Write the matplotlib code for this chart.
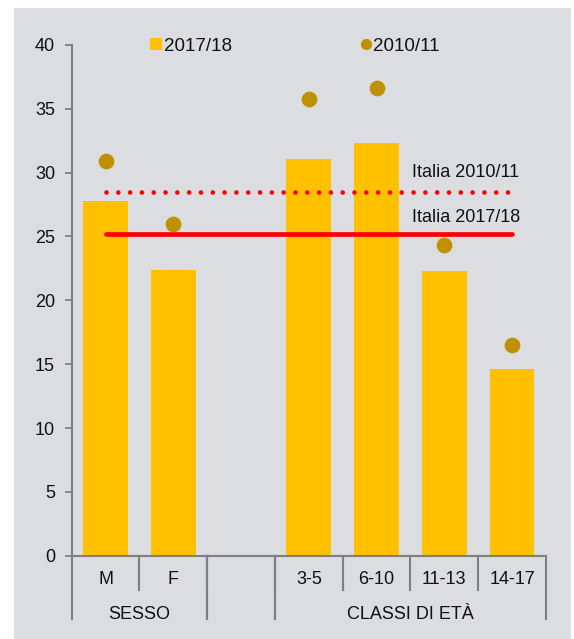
import numpy as np
import matplotlib
matplotlib.use("Agg")
import matplotlib.pyplot as plt
from matplotlib.lines import Line2D
from matplotlib.patches import Rectangle

plt.rcParams['font.family'] = ['Liberation Sans', 'DejaVu Sans']

# dati
categorie = ["M", "F", "", "3-5", "6-10", "11-13", "14-17"]
valori_2017 = [27.8, 22.4, np.nan, 31.1, 32.3, 22.3, 14.6]
valori_2010 = [30.9, 26.0, np.nan, 35.8, 36.6, 24.3, 16.5]
italia_2010 = 28.5
italia_2017 = 25.2
gruppi = ["SESSO", "", "CLASSI DI ETÀ"]
gruppi_inizio = [0, 2, 3]
gruppi_fine = [2, 3, 7]

giallo = '#ffc000'
oro = '#bf9000'
rosso = '#ff0000'
grigio = '#808080'
sfondo = '#dcdde0'
testo = '#111111'

fig = plt.figure(figsize=(5.74, 6.39), dpi=100)
fig.patch.set_facecolor('white')
# sfondo grigio
fig.patches.append(Rectangle((0.0244, 0), 0.9704, 0.9875, transform=fig.transFigure,
                             facecolor=sfondo, edgecolor='none', zorder=-10))

ax = fig.add_axes([0.1249, 0.1304, 0.8263, 0.7992])
ax.set_facecolor('none')

x = np.arange(len(categorie))
ax.bar(x, valori_2017, width=0.66, color=giallo, zorder=2)
ax.plot(x, valori_2010, 'o', color=oro, markersize=11.3, markeredgewidth=0, zorder=4)

# linee Italia
ax.plot([x[0], x[-1]], [italia_2017, italia_2017], color=rosso, lw=3.4,
        solid_capstyle='round', zorder=3)
ax.plot([x[0], x[-1]], [italia_2010, italia_2010], color=rosso, lw=3.4,
        dashes=(0.001, 2.5), dash_capstyle='round', zorder=3)
ax.text(4.52, 30.05, "Italia 2010/11", fontsize=13, color=testo, va='center', ha='left')
ax.text(4.52, 26.5, "Italia 2017/18", fontsize=13, color=testo, va='center', ha='left')

ax.set_xlim(-0.5, len(categorie) - 0.5)
ax.set_ylim(0, 40)
ax.set_yticks(np.arange(0, 41, 5))
ax.tick_params(axis='y', direction='out', length=5, width=1.3, color=grigio,
               labelsize=13, labelcolor=testo, pad=7)
ax.set_xticks([])
for s in ['top', 'right']:
    ax.spines[s].set_visible(False)
for s in ['left', 'bottom']:
    ax.spines[s].set_color(grigio)
    ax.spines[s].set_linewidth(1.5)

# asse categorie a due livelli
tr = ax.get_xaxis_transform()
for i, c in enumerate(categorie):
    ax.text(x[i], -0.046, c, transform=tr, ha='center', va='center',
            fontsize=13, color=testo)
for i in range(1, len(categorie)):
    ax.plot([i - 0.5, i - 0.5], [0, -0.067], transform=tr, color=grigio,
            lw=1.5, clip_on=False)
for nome, a, b in zip(gruppi, gruppi_inizio, gruppi_fine):
    for bordo in (a, b):
        ax.plot([bordo - 0.5, bordo - 0.5], [0, -0.124], transform=tr,
                color=grigio, lw=1.5, clip_on=False)
    ax.text((a + b - 1) / 2, -0.115, nome, transform=tr, ha='center', va='center',
            fontsize=13, color=testo)

handles = [Line2D([], [], marker='s', ls='none', color=giallo, markersize=8.5, markeredgewidth=0),
           Line2D([], [], marker='o', ls='none', color=oro, markersize=8, markeredgewidth=0)]
ax.legend(handles, ["2017/18", "2010/11"], ncol=2, frameon=False, loc='center',
          bbox_to_anchor=(0.472, 0.998), fontsize=13.5, handlelength=0.5,
          handletextpad=0.15, columnspacing=6.9, labelcolor=testo)

fig.savefig("out.png", dpi=100)
